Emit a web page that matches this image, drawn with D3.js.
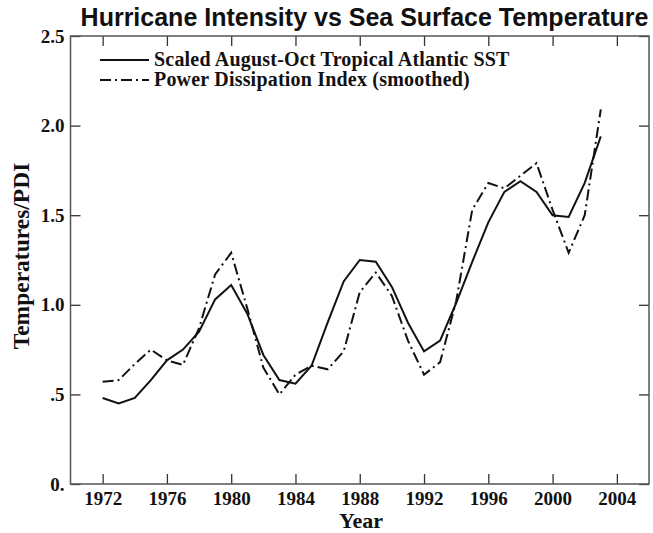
<!DOCTYPE html>
<html>
<head>
<meta charset="utf-8">
<script src="https://cdn.jsdelivr.net/npm/d3@7"></script>
<style>
  body { margin: 0; background: #fff; }
  svg { display: block; }
</style>
</head>
<body>
<div id="chart"></div>
<script>
// data
const years = [1972, 1973, 1974, 1975, 1976, 1977, 1978, 1979, 1980, 1981, 1982,
  1983, 1984, 1985, 1986, 1987, 1988, 1989, 1990, 1991, 1992, 1993, 1994, 1995,
  1996, 1997, 1998, 1999, 2000, 2001, 2002, 2003];
const sst = [0.48, 0.45, 0.48, 0.58, 0.69, 0.75, 0.85, 1.03, 1.11, 0.95, 0.72,
  0.58, 0.56, 0.66, 0.90, 1.13, 1.25, 1.24, 1.10, 0.90, 0.74, 0.80, 1.01, 1.24,
  1.46, 1.63, 1.69, 1.63, 1.50, 1.49, 1.68, 1.94];
const pdi = [0.57, 0.58, 0.67, 0.75, 0.69, 0.665, 0.87, 1.17, 1.29, 0.98, 0.65,
  0.50, 0.61, 0.66, 0.64, 0.74, 1.07, 1.18, 1.05, 0.80, 0.61, 0.68, 1.02, 1.53,
  1.68, 1.65, 1.72, 1.79, 1.53, 1.29, 1.50, 2.09];
const xTicks = [1972, 1976, 1980, 1984, 1988, 1992, 1996, 2000, 2004];
const yTicks = [0, 0.5, 1.0, 1.5, 2.0, 2.5];
const yTickLabels = ["0.", ".5", "1.0", "1.5", "2.0", "2.5"];
const seriesNames = ["Scaled August-Oct Tropical Atlantic SST", "Power Dissipation Index (smoothed)"];

const width = 653, height = 533;
const plotL = 70.5, plotR = 649, plotT = 36, plotB = 484;
const serif = "'Liberation Serif', 'Times New Roman', serif";
const dashDot = "11,4,2,4";

const svg = d3.select("#chart").append("svg")
  .attr("width", width)
  .attr("height", height);

const x = d3.scaleLinear().domain([1970, 2006]).range([plotL, plotR]);
const y = d3.scaleLinear().domain([0, 2.5]).range([plotB, plotT]);

function styleAxis(g) {
  g.select(".domain").remove();
  g.selectAll(".tick line").attr("stroke", "#333").attr("stroke-width", 1.3);
  g.selectAll(".tick text")
    .attr("fill", "#111")
    .style("font-family", serif)
    .style("font-weight", "bold")
    .style("font-size", "19px");
}

svg.append("g")
  .attr("transform", `translate(0,${plotB})`)
  .call(d3.axisBottom(x).tickValues(xTicks).tickFormat(d3.format("d")).tickSize(-10).tickPadding(7.5))
  .call(styleAxis);

svg.append("g")
  .attr("transform", `translate(0,${plotT})`)
  .call(d3.axisTop(x).tickValues(xTicks).tickFormat("").tickSize(-10))
  .call(styleAxis);

svg.append("g")
  .attr("transform", `translate(${plotL},0)`)
  .call(d3.axisLeft(y).tickValues(yTicks).tickFormat((d, i) => yTickLabels[i]).tickSize(-10).tickPadding(6))
  .call(styleAxis);

svg.append("g")
  .attr("transform", `translate(${plotR},0)`)
  .call(d3.axisRight(y).tickValues(yTicks).tickFormat("").tickSize(-10))
  .call(styleAxis);

// frame
svg.append("rect")
  .attr("x", plotL).attr("y", plotT)
  .attr("width", plotR - plotL).attr("height", plotB - plotT)
  .attr("fill", "none")
  .attr("stroke", "#555")
  .attr("stroke-width", 1.5);

const line = d3.line()
  .x((d, i) => x(years[i]))
  .y(d => y(d));

svg.append("path")
  .attr("d", line(sst))
  .attr("fill", "none")
  .attr("stroke", "#111")
  .attr("stroke-width", 2);

svg.append("path")
  .attr("d", line(pdi))
  .attr("fill", "none")
  .attr("stroke", "#111")
  .attr("stroke-width", 2)
  .attr("stroke-dasharray", dashDot);

// legend
const legend = svg.append("g");
seriesNames.forEach((name, i) => {
  const ly = 60 + i * 20;
  legend.append("line")
    .attr("x1", 100).attr("x2", 149)
    .attr("y1", ly).attr("y2", ly)
    .attr("stroke", "#111")
    .attr("stroke-width", 2)
    .attr("stroke-dasharray", i === 0 ? null : dashDot);
  legend.append("text")
    .attr("x", 154).attr("y", ly + 5.5)
    .style("font-family", serif)
    .style("font-weight", "bold")
    .style("font-size", "20px")
    .style("letter-spacing", "0.2px")
    .attr("fill", "#111")
    .text(name);
});

// title and axis labels
svg.append("text")
  .attr("x", 364.5).attr("y", 26)
  .attr("text-anchor", "middle")
  .style("font-family", "'Liberation Sans', Arial, sans-serif")
  .style("font-weight", "bold")
  .style("font-size", "25px")
  .attr("fill", "#111")
  .text("Hurricane Intensity vs Sea Surface Temperature");

svg.append("text")
  .attr("x", 361).attr("y", 528)
  .attr("text-anchor", "middle")
  .style("font-family", serif)
  .style("font-weight", "bold")
  .style("font-size", "22px")
  .attr("fill", "#111")
  .text("Year");

svg.append("text")
  .attr("transform", "translate(29,256) rotate(-90)")
  .attr("text-anchor", "middle")
  .style("font-family", serif)
  .style("font-weight", "bold")
  .style("font-size", "23.5px")
  .attr("fill", "#111")
  .text("Temperatures/PDI");
</script>
</body>
</html>
